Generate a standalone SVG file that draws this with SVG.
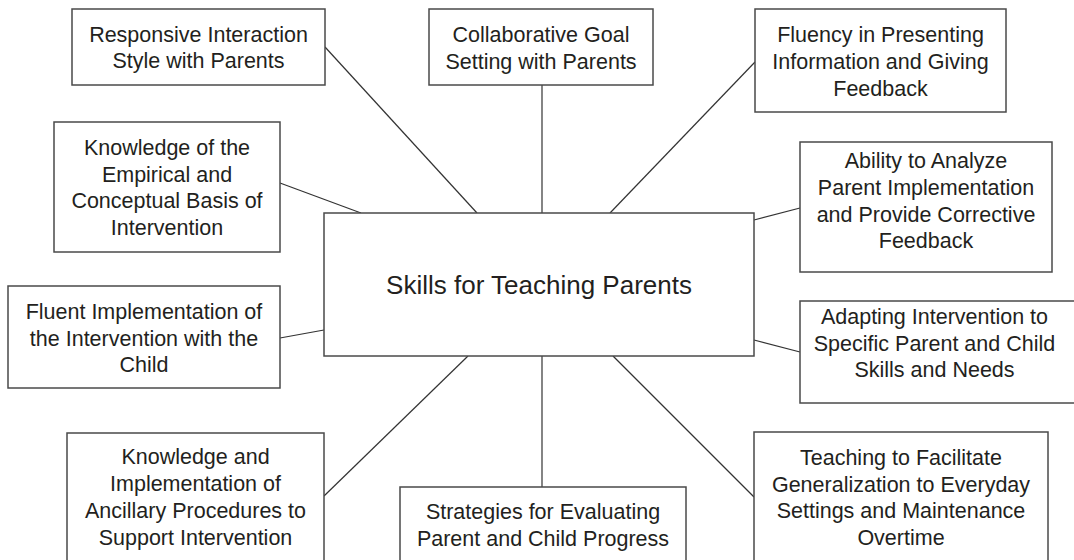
<svg xmlns="http://www.w3.org/2000/svg" width="1074" height="560" viewBox="0 0 1074 560">
<style>
.box{fill:#fff;stroke:#4a4a4a;stroke-width:1.5}
.t{font-family:"Liberation Sans",Arial,sans-serif;font-size:21.5px;fill:#231f20;text-anchor:middle}
.main{font-size:26px}
.c line{stroke:#333;stroke-width:1.2}
</style>
<rect width="1074" height="560" fill="#fff"/>
<g id="connectors" class="c">
<line x1="325" y1="47" x2="477" y2="213"/>
<line x1="542" y1="85" x2="542" y2="213"/>
<line x1="755" y1="62" x2="610" y2="213"/>
<line x1="280" y1="183" x2="361" y2="213"/>
<line x1="800" y1="208" x2="754" y2="220"/>
<line x1="280" y1="338" x2="324" y2="330"/>
<line x1="754" y1="340" x2="800" y2="352"/>
<line x1="324" y1="496" x2="468" y2="356"/>
<line x1="542" y1="356" x2="542" y2="487"/>
<line x1="754" y1="497" x2="613" y2="356"/>
</g>
<g id="center">
<rect class="box" x="324" y="213" width="430" height="143"/>
<text class="t main" x="539" y="294">Skills for Teaching Parents</text>
</g>
<g id="responsive">
<rect class="box" x="72" y="9" width="253" height="76"/>
<text class="t" x="198.5" y="41.7">Responsive Interaction</text>
<text class="t" x="198.5" y="68.3">Style with Parents</text>
</g>
<g id="collaborative">
<rect class="box" x="429" y="9" width="224" height="76"/>
<text class="t" x="541" y="42.3">Collaborative Goal</text>
<text class="t" x="541" y="69">Setting with Parents</text>
</g>
<g id="fluency">
<rect class="box" x="755" y="9" width="251" height="103"/>
<text class="t" x="880.5" y="42.3">Fluency in Presenting</text>
<text class="t" x="880.5" y="69">Information and Giving</text>
<text class="t" x="880.5" y="95.5">Feedback</text>
</g>
<g id="empirical">
<rect class="box" x="54" y="122" width="226" height="130"/>
<text class="t" x="167" y="154.5">Knowledge of the</text>
<text class="t" x="167" y="181.5">Empirical and</text>
<text class="t" x="167" y="208">Conceptual Basis of</text>
<text class="t" x="167" y="234.5">Intervention</text>
</g>
<g id="ability">
<rect class="box" x="800" y="142" width="252" height="130"/>
<text class="t" x="926" y="168">Ability to Analyze</text>
<text class="t" x="926" y="195">Parent Implementation</text>
<text class="t" x="926" y="221.7">and Provide Corrective</text>
<text class="t" x="926" y="248.3">Feedback</text>
</g>
<g id="fluent">
<rect class="box" x="8" y="286" width="272" height="102"/>
<text class="t" x="144" y="319.3">Fluent Implementation of</text>
<text class="t" x="144" y="346">the Intervention with the</text>
<text class="t" x="144" y="372">Child</text>
</g>
<g id="adapting">
<rect class="box" x="800" y="301" width="276" height="102"/>
<text class="t" x="934.5" y="324">Adapting Intervention to</text>
<text class="t" x="934.5" y="350.5">Specific Parent and Child</text>
<text class="t" x="934.5" y="377.3">Skills and Needs</text>
</g>
<g id="ancillary">
<rect class="box" x="67" y="433" width="257" height="130"/>
<text class="t" x="195.5" y="464.3">Knowledge and</text>
<text class="t" x="195.5" y="491">Implementation of</text>
<text class="t" x="195.5" y="518.3">Ancillary Procedures to</text>
<text class="t" x="195.5" y="545">Support Intervention</text>
</g>
<g id="strategies">
<rect class="box" x="400" y="487" width="286" height="76"/>
<text class="t" x="543" y="519">Strategies for Evaluating</text>
<text class="t" x="543" y="545.7">Parent and Child Progress</text>
</g>
<g id="teaching">
<rect class="box" x="754" y="432" width="294" height="131"/>
<text class="t" x="901" y="465">Teaching to Facilitate</text>
<text class="t" x="901" y="491.7">Generalization to Everyday</text>
<text class="t" x="901" y="518.3">Settings and Maintenance</text>
<text class="t" x="901" y="545">Overtime</text>
</g>
</svg>
